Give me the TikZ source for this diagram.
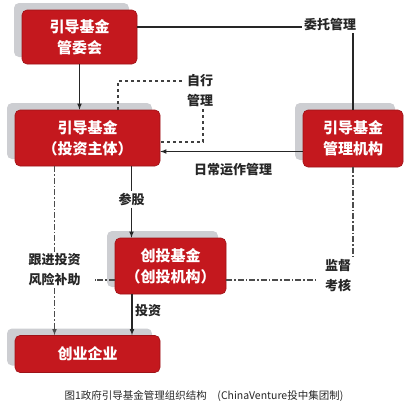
\documentclass[tikz,border=0pt]{standalone}
\usepackage{fontspec}
\newfontfamily\cjk{Noto Sans CJK SC}
\usetikzlibrary{shadows}
\definecolor{boxred}{RGB}{196,24,30}
\definecolor{shadowgray}{RGB}{205,206,210}

\begin{document}
\begin{tikzpicture}[x=1pt,y=-1pt,
		box/.style={fill=boxred,draw=boxred!80!black,line width=.6pt,rounded corners=5pt,text=white,align=center,inner sep=0pt,
			font=\cjk\bfseries\fontsize{15}{21}\selectfont,
			drop shadow={shadow xshift=-8pt,shadow yshift=7pt,fill=shadowgray,opacity=1}},
		lab/.style={align=center,inner sep=2pt,font=\cjk\bfseries\fontsize{13}{20}\selectfont,text=black!85},
		link/.style={line width=1.1pt,black!85},
		dashdot/.style={line width=1.1pt,black!70,dash pattern=on 6pt off 2pt on 1.5pt off 2pt}]
				\useasboundingbox (0,0) rectangle (412,408);
				
				\node[box,minimum width=115pt,minimum height=54pt] (gw) at (79.5,37) {引导基金\\管委会};
				\node[box,minimum width=145pt,minimum height=56pt] (zt) at (87.5,138) {引导基金\\（投资主体）};
				\node[box,minimum width=100pt,minimum height=57pt] (jg) at (353,138.5) {引导基金\\管理机构};
				\node[box,minimum width=111pt,minimum height=56pt] (ct) at (170.5,266) {创投基金\\（创投机构）};
				\node[box,minimum width=145pt,minimum height=37pt] (qy) at (87.5,354) {创业企业};
				
				\node[lab] (wt) at (330,25) {委托管理};
				\node[lab] (zx) at (200,91) {自行\\管理};
				\node[lab] (rc) at (233,170) {日常运作管理};
				\node[lab] (cg) at (131.5,199) {参股};
				\node[lab] (gj) at (54.5,270) {跟进投资\\风险补助};
				\node[lab] (tz) at (148,311) {投资};
				\node[lab] (jd) at (338,276) {监督\\考核};
				\node[font=\cjk\fontsize{10.5}{12}\selectfont,text=black!85] (cap) at (204,396) {图1政府引导基金管理组织结构\quad(ChinaVenture投中集团制)};
				
				% solid links
				\draw[link,-latex] (gw.south) -- (gw.south |- zt.north);
				\draw[link] ([yshift=10pt]gw.east) -- ([yshift=10pt]gw.east -| wt.west);
				\draw[link] (jg.north |- wt.south) -- (jg.north);
				\draw[link,-latex] ([yshift=-13pt]jg.west) -- ([yshift=-13pt]jg.west -| zt.east);
				\draw[link] ([xshift=44pt]zt.south) -- (cg.north);
				\draw[link,-latex] (cg.south) -- (cg.south |- ct.north);
				\draw[link,-latex] ([xshift=-38.5pt]ct.south) -- ([xshift=-38.5pt]ct.south |- qy.north);
				
				% dashed links
				\draw[link,dashed,black!75] ([xshift=30.5pt]zt.north) |- ([yshift=10pt]zx.west);
				\draw[link,dashed,black!75] ([xshift=3pt]zx.south) |- ([yshift=-4pt]zt.east);
				\draw[dashdot] (gj.north |- zt.south) -- (gj.north);
				\draw[dashdot,-latex] (gj.south) -- (gj.south |- qy.north);
				\draw[dashdot,shorten >=12pt] ([yshift=-14pt]ct.west) -- ([yshift=-14pt]ct.west -| gj.east);
				\draw[dashdot] (jg.south) -- (jg.south |- jd.north);
				\draw[dashdot,shorten >=6pt] ([yshift=-14pt]ct.east) -- ([yshift=-14pt]ct.east -| jd.west);
			\end{tikzpicture}
\end{document}
